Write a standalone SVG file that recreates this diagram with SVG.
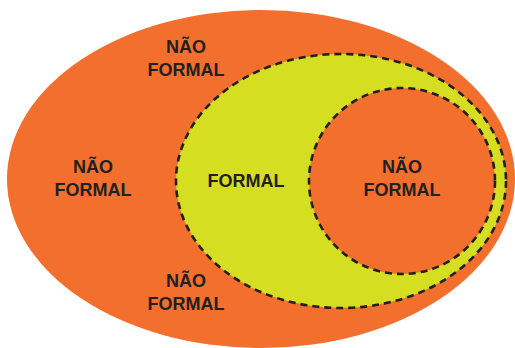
<svg xmlns="http://www.w3.org/2000/svg" width="515" height="348" viewBox="0 0 515 348">
  <style>
    .outer { fill: #F26F2D; }
    .formal { fill: #D5DE20; stroke: #231F20; stroke-width: 2.6; stroke-dasharray: 7 5; }
    .inner { fill: #F26F2D; stroke: #231F20; stroke-width: 2.6; stroke-dasharray: 7 5; }
    text { font-family: "Liberation Sans", Arial, sans-serif; font-weight: bold; font-size: 18px; fill: #231F20; text-anchor: middle; }
  </style>
  <rect width="515" height="348" fill="#FFFFFF"/>
  <g id="outer-set">
    <ellipse class="outer" cx="261" cy="179" rx="254" ry="169"/>
    <text x="186" y="53">NÃO</text>
    <text x="186" y="76">FORMAL</text>
    <text x="93" y="173">NÃO</text>
    <text x="93" y="196">FORMAL</text>
    <text x="186" y="287">NÃO</text>
    <text x="186" y="310">FORMAL</text>
  </g>
  <g id="formal-set">
    <ellipse class="formal" cx="341" cy="181" rx="165" ry="127"/>
    <text x="246" y="187">FORMAL</text>
  </g>
  <g id="inner-set">
    <ellipse class="inner" cx="402" cy="181" rx="93" ry="93"/>
    <text x="402" y="173">NÃO</text>
    <text x="402" y="196">FORMAL</text>
  </g>
  <g id="connectors"></g>
</svg>
